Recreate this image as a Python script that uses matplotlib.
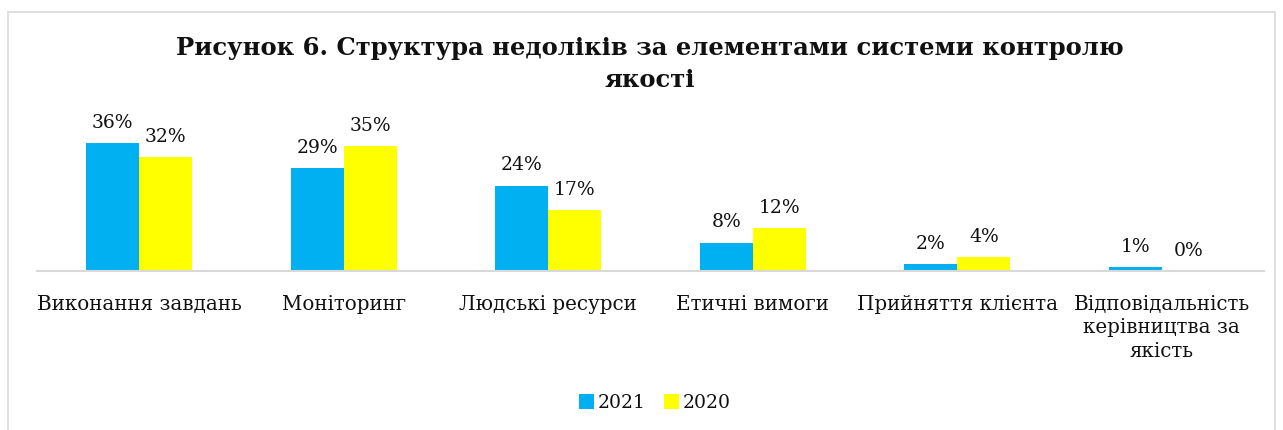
import matplotlib
matplotlib.use("Agg")
import matplotlib.pyplot as plt
import numpy as np
from matplotlib.patches import Rectangle

categories = ["Виконання завдань", "Моніторинг", "Людські ресурси", "Етичні вимоги",
              "Прийняття клієнта", "Відповідальність\nкерівництва за\nякість"]
values_2021 = [36, 29, 24, 8, 2, 1]
values_2020 = [32, 35, 17, 12, 4, 0]
series_names = ["2021", "2020"]
title = "Рисунок 6. Структура недоліків за елементами системи контролю\nякості"

plt.rcParams['font.family'] = ['DejaVu Serif']
W, H = 1283, 430
fig = plt.figure(figsize=(W/100, H/100), dpi=100)

# border
fig.patches.append(Rectangle((8/W, -0.05), (1275-8)/W, 1.05 - 12/H - 0.0,
                             transform=fig.transFigure, fill=False,
                             edgecolor='#d9d9d9', linewidth=1.2))

left, right = 37/W, 1264/W
bottom = (H-271)/H
ppu = 3.56
ymax = 40
ax = fig.add_axes([left, bottom, right-left, ymax*ppu/H])
x = np.arange(len(categories))
bw = 0.26
b1 = ax.bar(x - bw/2, values_2021, bw, color='#00B0F0', label=series_names[0])
b2 = ax.bar(x + bw/2, values_2020, bw, color='#FFFF00', label=series_names[1])
ax.set_xlim(-0.5, len(categories)-0.5)
ax.set_ylim(0, ymax)
for s in ['top', 'right', 'left']:
    ax.spines[s].set_visible(False)
ax.spines['bottom'].set_color('#d9d9d9')
ax.spines['bottom'].set_linewidth(1.5)
ax.set_yticks([])
ax.set_xticks(x)
ax.set_xticklabels(categories, fontsize=14.3, color='#111111', linespacing=1.3)
ax.tick_params(axis='x', length=0, pad=17)
for bars in (b1, b2):
    for r in bars:
        ax.annotate(f"{int(r.get_height())}%", (r.get_x()+r.get_width()/2, r.get_height()),
                    xytext=(0, 8), textcoords='offset points', ha='center', va='bottom',
                    fontsize=13.5, color='#111111')

fig.text(650/W, 1 - 64/H, title, ha='center', va='center', fontsize=17.5,
         fontweight='bold', color='#111111', linespacing=1.4)

fig.legend(handles=[b1, b2], labels=series_names, loc='center', bbox_to_anchor=(655/W, 1-403/H),
           ncol=2, frameon=False, fontsize=13.5, handlelength=0.8, handleheight=0.8,
           handletextpad=0.2, columnspacing=1.0, labelcolor='#111111')

fig.savefig("out.png", dpi=100)
